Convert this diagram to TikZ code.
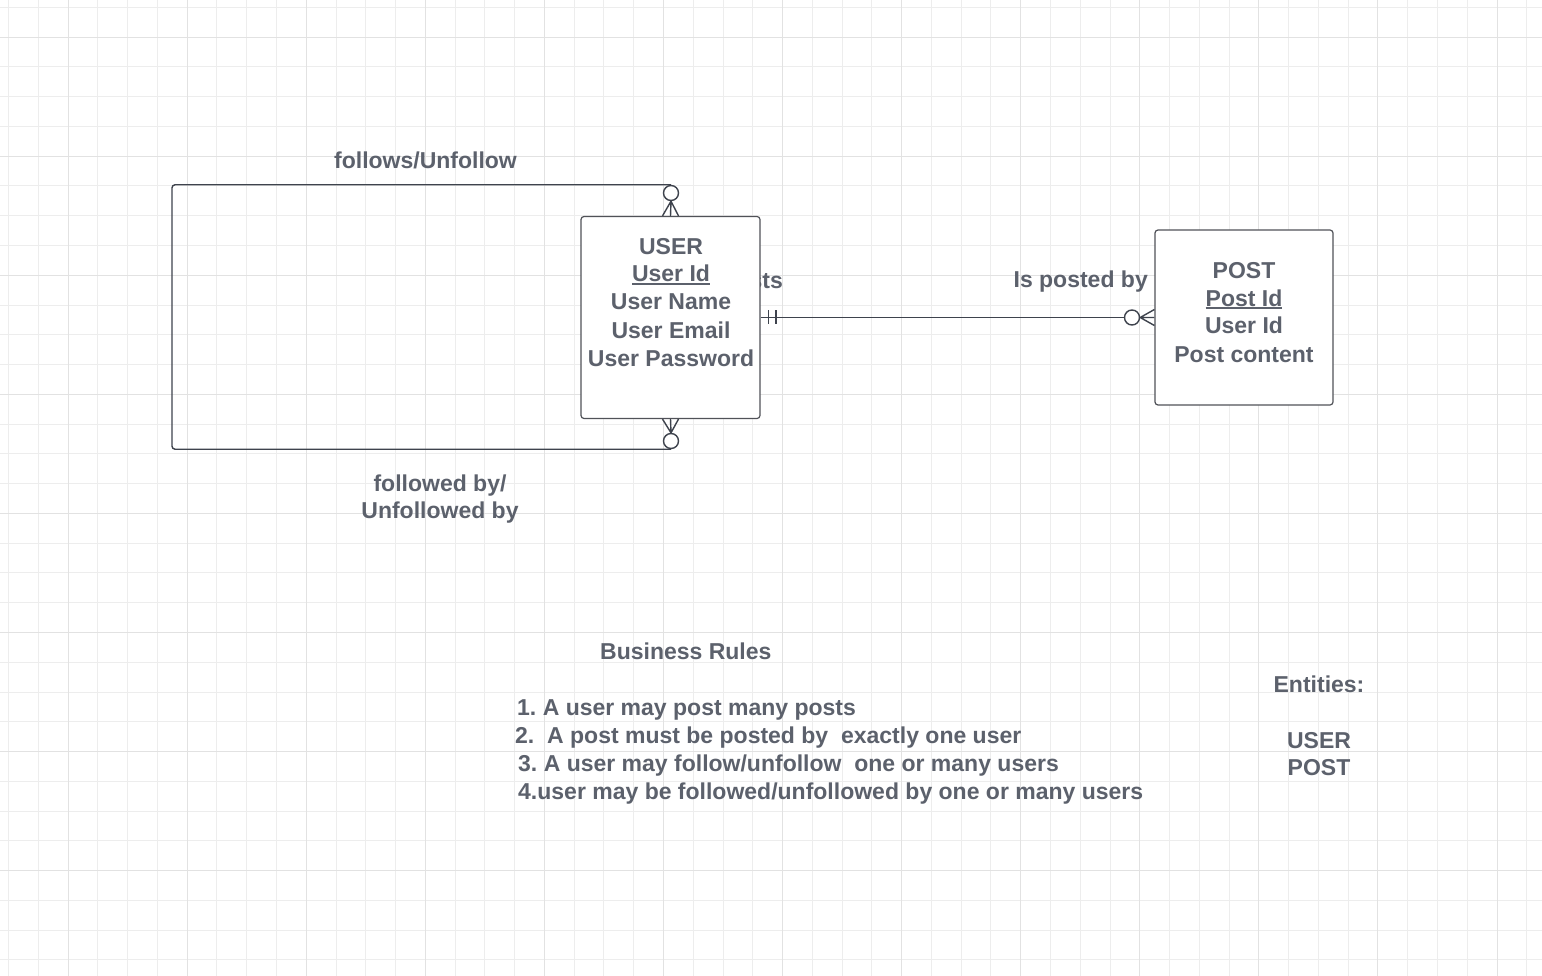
\documentclass[tikz,border=0pt]{standalone}
\usepackage{fontspec}
\setmainfont{Liberation Sans}
\usetikzlibrary{calc}
\frenchspacing
\definecolor{linecol}{RGB}{62,67,77}
\definecolor{txtcol}{RGB}{92,97,108}
\definecolor{boxcol}{RGB}{80,82,88}
\definecolor{gridminor}{RGB}{237,237,237}
\definecolor{gridmajor}{RGB}{226,226,226}
\newcommand\myul[1]{\setbox0\hbox{#1}\rlap{\rule[-3pt]{\wd0}{1.6pt}}\box0}
\begin{document}
\begin{tikzpicture}[x=1pt,y=-1pt,
  lbl/.style={font=\bfseries\fontsize{23}{28}\selectfont\frenchspacing, text=txtcol, inner sep=0pt},
  ent/.style={draw=boxcol, fill=white, line width=1.2pt, rounded corners=3pt, inner sep=0pt},
  conn/.style={draw=linecol, line width=1.4pt},
  circ/.style={circle, draw=linecol, fill=white, line width=1.4pt, minimum size=15pt, inner sep=0pt}]
\useasboundingbox (0,0) rectangle (1542,976);
\fill[white] (0,0) rectangle (1542,976);
% grid
\foreach \i in {0,...,51} {\draw[gridminor, line width=0.9pt] ({8.5+\i*29.77},0) -- ++(0,976);}
\foreach \j in {0,...,32} {\draw[gridminor, line width=0.9pt] (0,{7.3+\j*29.77}) -- ++(1542,0);}
\foreach \i in {0,...,12} {\draw[gridmajor, line width=0.9pt] ({68.04+\i*119.08},0) -- ++(0,976);}
\foreach \j in {0,...,7} {\draw[gridmajor, line width=0.9pt] (0,{37.07+\j*119.08}) -- ++(1542,0);}
% relationship label partly hidden behind the USER box
\node[lbl, anchor=base east] (lposts) at (783,289) {posts};
% entities
\node[ent, minimum width=179pt, minimum height=202pt] (user) at (670.5,317.5) {};
\node[ent, minimum width=178pt, minimum height=175pt] (post) at (1244,317.5) {};
\node[lbl, anchor=base] (u1) at (671,255) {USER};
\node[lbl, anchor=base] (u2) at (671,282) {\myul{User Id}};
\node[lbl, anchor=base] (u3) at (671,310) {User Name};
\node[lbl, anchor=base] (u4) at (671,338) {User Email};
\node[lbl, anchor=base] (u5) at (671,366) {User Password};
\node[lbl, anchor=base] (p1) at (1244,279) {POST};
\node[lbl, anchor=base] (p2) at (1244,306) {\myul{Post Id}};
\node[lbl, anchor=base] (p3) at (1244,334) {User Id};
\node[lbl, anchor=base] (p4) at (1244,362) {Post content};
% cardinality circles
\node[circ] (c1) at (671,193) {};
\node[circ] (c2) at (671,441) {};
\node[circ] (c3) at (1132,317.5) {};
\coordinate (loopx) at (172,0);
% self relationship loop
\draw[conn, rounded corners=3pt] (c1.north) -| (loopx |- c2.south) -- (c2.south);
\draw[conn] (c1.south) -- ($(user.north)+(-8,0)$) (c1.south) -- (user.north) (c1.south) -- ($(user.north)+(8,0)$);
\draw[conn] (c2.north) -- ($(user.south)+(-8,0)$) (c2.north) -- (user.south) (c2.north) -- ($(user.south)+(8,0)$);
% user - post
\draw[conn] (user.east) -- (c3.west);
\draw[conn] ($(user.east)+(8,-7)$) -- ($(user.east)+(8,7)$);
\draw[conn] ($(user.east)+(15.5,-7)$) -- ($(user.east)+(15.5,7)$);
\draw[conn] (c3.east) -- ($(post.west)+(0,-8)$) (c3.east) -- (post.west) (c3.east) -- ($(post.west)+(0,8)$);
% labels
\node[lbl, anchor=base east] (lposted) at (1148,288) {Is posted by};
\node[lbl, anchor=base] (lfollows) at (425.5,169) {follows/Unfollow};
\node[lbl, anchor=base] (lfollowed1) at (440,491) {followed by/};
\node[lbl, anchor=base] (lfollowed2) at (440,518) {Unfollowed by};
% business rules
\node[lbl, anchor=base west] (br) at (600,659) {Business Rules};
\node[lbl, anchor=base west] (r1) at (517,715) {1. A user may post many posts};
\node[lbl, anchor=base west] (r2) at (515,743) {2.\ \ A post must be posted by\ \ exactly one user};
\node[lbl, anchor=base west] (r3) at (518,771) {3. A user may follow/unfollow\ \ one or many users};
\node[lbl, anchor=base west] (r4) at (518,799) {4.user may be followed/unfollowed by one or many users};
% entities list
\node[lbl, anchor=base] (ent0) at (1319,692) {Entities:};
\node[lbl, anchor=base] (ent1) at (1319,748) {USER};
\node[lbl, anchor=base] (ent2) at (1319,775) {POST};
\end{tikzpicture}
\end{document}
